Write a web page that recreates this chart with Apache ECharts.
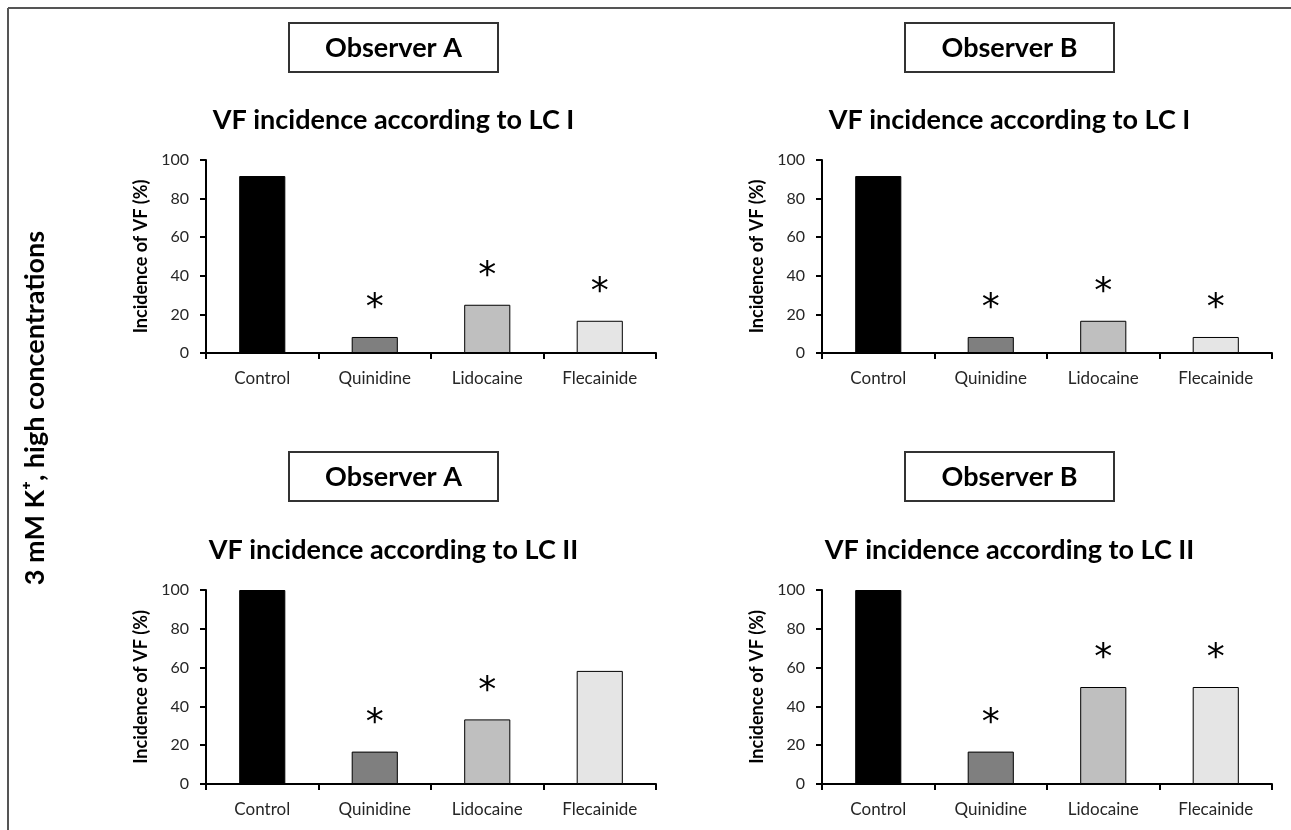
<!DOCTYPE html>
<html>
<head>
<meta charset="utf-8">
<script src="https://cdn.jsdelivr.net/npm/echarts@6/dist/echarts.min.js"></script>
<style>
html,body{margin:0;padding:0;background:#fff;}
#chart{width:1291px;height:830px;}
</style>
</head>
<body>
<div id="chart"></div>
<script>
// ---- data ----
const categories = ['Control', 'Quinidine', 'Lidocaine', 'Flecainide'];
const lc1ObserverA = [91.7, 8.3, 25.0, 16.7];
const lc1ObserverB = [91.7, 8.3, 16.7, 8.3];
const lc2ObserverA = [100, 16.7, 33.3, 58.3];
const lc2ObserverB = [100, 16.7, 50.0, 50.0];
const sigLc1ObserverA = [false, true, true, true];
const sigLc1ObserverB = [false, true, true, true];
const sigLc2ObserverA = [false, true, true, false];
const sigLc2ObserverB = [false, true, true, true];
const yMin = 0, yMax = 100, yStep = 20;
const panelTitles = ['VF incidence according to LC I', 'VF incidence according to LC I',
                     'VF incidence according to LC II', 'VF incidence according to LC II'];
const observerLabels = ['Observer A', 'Observer B', 'Observer A', 'Observer B'];
const yAxisName = 'Incidence of VF (%)';
const sideLabel = '3 mM K\u207A, high concentrations';
const barColors = ['#000000', '#7f7f7f', '#bfbfbf', '#e5e5e5'];

// ---- layout ----
const FONT = 'Lato, "Open Sans", sans-serif';
const panels = [
  {left: 206, top: 160, height: 193, values: lc1ObserverA, sig: sigLc1ObserverA, boxTop: 23, titleY: 120},
  {left: 822, top: 160, height: 193, values: lc1ObserverB, sig: sigLc1ObserverB, boxTop: 23, titleY: 120},
  {left: 206, top: 590, height: 194, values: lc2ObserverA, sig: sigLc2ObserverA, boxTop: 452, titleY: 550},
  {left: 822, top: 590, height: 194, values: lc2ObserverB, sig: sigLc2ObserverB, boxTop: 452, titleY: 550}
];
const gridW = 450;

const grid = [], xAxis = [], yAxis = [], series = [], graphic = [];
panels.forEach((p, i) => {
  grid.push({left: p.left, top: p.top, width: gridW, height: p.height, containLabel: false});
  xAxis.push({
    type: 'category', gridIndex: i, data: categories,
    axisLine: {lineStyle: {color: '#000', width: 2}},
    axisTick: {show: true, length: 6, lineStyle: {color: '#000', width: 2}},
    axisLabel: {color: '#262626', fontFamily: FONT, fontSize: 17, margin: 17}
  });
  yAxis.push({
    type: 'value', gridIndex: i, min: yMin, max: yMax, interval: yStep,
    name: yAxisName, nameLocation: 'middle', nameGap: 56,
    nameTextStyle: {fontFamily: FONT, fontWeight: 'bold', fontSize: 18, color: '#000'},
    axisLine: {show: true, lineStyle: {color: '#000', width: 2}},
    axisTick: {show: true, length: 6, lineStyle: {color: '#000', width: 2}},
    axisLabel: {color: '#262626', fontFamily: FONT, fontSize: 16, margin: 17},
    splitLine: {show: false}
  });
  series.push({
    type: 'bar', xAxisIndex: i, yAxisIndex: i, barCategoryGap: '59%',
    data: p.values.map((v, k) => ({
      value: v,
      itemStyle: {color: barColors[k], borderColor: '#000', borderWidth: 1},
      label: {show: p.sig[k]}
    })),
    label: {position: 'top', distance: 10, formatter: '*', fontFamily: 'DejaVu Sans',
            fontSize: 36, color: '#000'},
    emphasis: {disabled: true},
    animation: false
  });
  const cx = p.left + 187.5;
  graphic.push({
    type: 'rect', shape: {x: cx - 104.5, y: p.boxTop, width: 209, height: 49},
    style: {fill: '#fff', stroke: '#333', lineWidth: 2}
  });
  graphic.push({
    type: 'text', x: cx, y: p.boxTop + 25,
    style: {text: observerLabels[i], font: 'bold 27px ' + FONT, fill: '#000',
            textAlign: 'center', textVerticalAlign: 'middle', align: 'center', verticalAlign: 'middle'}
  });
  graphic.push({
    type: 'text', x: cx, y: p.titleY,
    style: {text: panelTitles[i], font: 'bold 27px ' + FONT, fill: '#000',
            textAlign: 'center', textVerticalAlign: 'middle', align: 'center', verticalAlign: 'middle'}
  });
});
graphic.push({type: 'line', shape: {x1: 8, y1: 8, x2: 1291, y2: 8}, style: {stroke: '#555', lineWidth: 2}});
graphic.push({type: 'line', shape: {x1: 8, y1: 8, x2: 8, y2: 830}, style: {stroke: '#555', lineWidth: 2}});
graphic.push({
  type: 'text', x: 35, y: 408, rotation: Math.PI / 2,
  style: {text: sideLabel, font: 'bold 27px ' + FONT, fill: '#000',
          textAlign: 'center', textVerticalAlign: 'middle', align: 'center', verticalAlign: 'middle'}
});

const chart = echarts.init(document.getElementById('chart'), null, {renderer: 'canvas'});
chart.setOption({
  backgroundColor: '#fff',
  animation: false,
  grid, xAxis, yAxis, series, graphic
});
</script>
</body>
</html>
